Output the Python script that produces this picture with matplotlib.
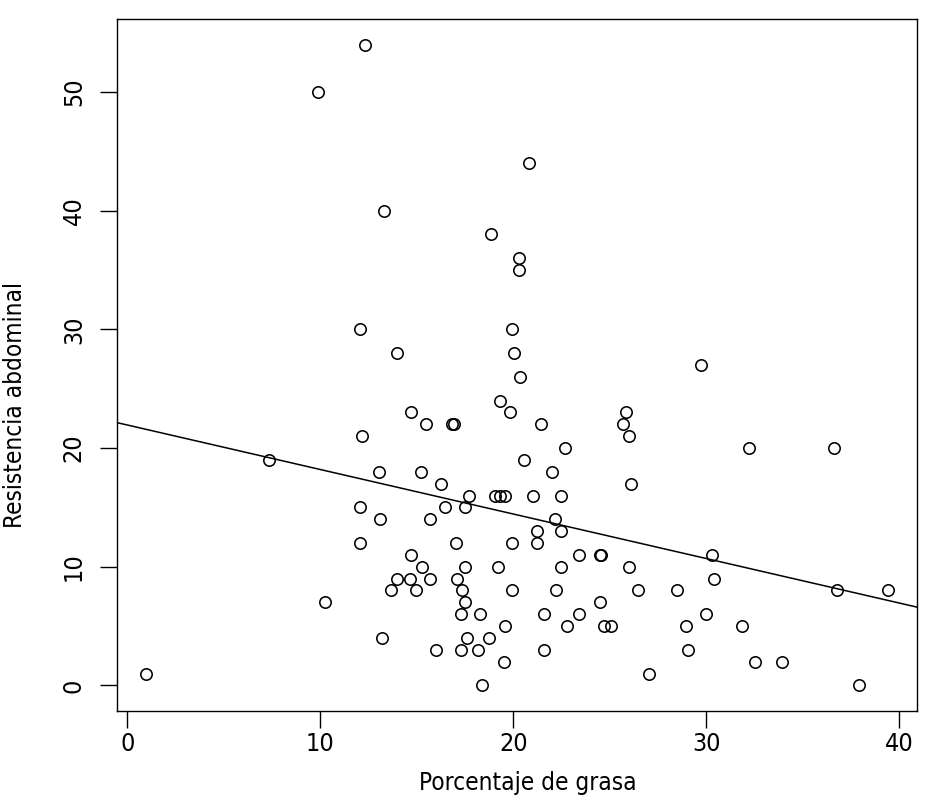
import matplotlib
matplotlib.use("Agg")
import matplotlib.pyplot as plt

# ---- data ----
grasa = [12.32, 9.87, 13.31, 20.80, 18.83, 20.29, 20.29, 19.94, 12.07, 13.99,
         20.03, 20.34, 29.73, 19.33, 14.71, 19.85, 25.82, 15.49, 16.80, 16.90,
         21.44, 25.70, 12.15, 26.02, 7.36, 22.69, 32.20, 36.61, 20.54, 13.02,
         15.20, 21.99, 16.27, 26.11, 17.69, 19.04, 19.33, 19.59, 21.04, 22.48,
         12.07, 16.48, 17.51, 13.10, 15.70, 22.18, 21.24, 22.47, 12.07, 17.03,
         19.94, 21.24, 14.71, 23.41, 24.50, 24.55, 30.32, 15.28, 17.50, 19.23,
         22.47, 26.02, 13.97, 14.66, 15.70, 17.08, 30.41, 13.66, 14.98, 17.35,
         19.94, 22.21, 26.48, 28.50, 36.80, 39.40, 10.23, 17.50, 24.49, 17.31,
         18.26, 21.61, 23.41, 30.01, 19.59, 22.78, 24.70, 25.06, 28.97, 31.84,
         13.21, 17.60, 18.74, 15.98, 17.31, 18.16, 21.61, 29.06, 19.51, 32.50,
         33.91, 0.98, 27.05, 18.37, 37.93]
resistencia = [54, 50, 40, 44, 38, 36, 35, 30, 30, 28,
               28, 26, 27, 24, 23, 23, 23, 22, 22, 22,
               22, 22, 21, 21, 19, 20, 20, 20, 19, 18,
               18, 18, 17, 17, 16, 16, 16, 16, 16, 16,
               15, 15, 15, 14, 14, 14, 13, 13, 12, 12,
               12, 12, 11, 11, 11, 11, 11, 10, 10, 10,
               10, 10, 9, 9, 9, 9, 9, 8, 8, 8,
               8, 8, 8, 8, 8, 8, 7, 7, 7, 6,
               6, 6, 6, 6, 5, 5, 5, 5, 5, 5,
               4, 4, 4, 3, 3, 3, 3, 3, 2, 2,
               2, 1, 1, 0, 0]
recta_intercepto = 21.94
recta_pendiente = -0.375
x_ticks = [0, 10, 20, 30, 40]
y_ticks = [0, 10, 20, 30, 40, 50]
x_label = "Porcentaje de grasa"
y_label = "Resistencia abdominal"

plt.rcParams['font.family'] = ['DejaVu Sans']
plt.rcParams['font.stretch'] = 'condensed'
fs_tick = 18
fs_lab = 17.5

fig = plt.figure(figsize=(9.45, 8.06), dpi=100)
ax = fig.add_axes([116.7 / 945, 1 - 711 / 806, (917.3 - 116.7) / 945, (711 - 19) / 806])

ax.plot(grasa, resistencia, linestyle='none', marker='o', markersize=8.2,
        markerfacecolor='none', markeredgecolor='black', markeredgewidth=1.15)
ax.axline((0, recta_intercepto), slope=recta_pendiente, color='black', linewidth=1.1)

# R-style 4% range extension
xmin, xmax = min(grasa), max(grasa)
ymin, ymax = min(resistencia), max(resistencia)
dx = 0.04 * (xmax - xmin)
dy = 0.04 * (ymax - ymin)
ax.set_xlim(xmin - dx, xmax + dx)
ax.set_ylim(ymin - dy, ymax + dy)

ax.set_xticks(x_ticks)
ax.set_yticks(y_ticks)
ax.set_xticklabels([str(t) for t in x_ticks], fontsize=fs_tick)
ax.set_yticklabels([str(t) for t in y_ticks], fontsize=fs_tick, rotation=90, va='center')
ax.tick_params(axis='both', direction='out', length=12.2, width=1.0, color='black')
ax.tick_params(axis='x', pad=3)
ax.tick_params(axis='y', pad=10)

for sp in ax.spines.values():
    sp.set_linewidth(1.0)
    sp.set_color('black')

fig.text(528 / 945, 1 - 783 / 806, x_label, ha='center', va='center', fontsize=fs_lab)
fig.text(15 / 945, 1 - 405 / 806, y_label, ha='center', va='center', rotation=90, fontsize=fs_lab)

fig.savefig("out.png", dpi=100, facecolor='white')
